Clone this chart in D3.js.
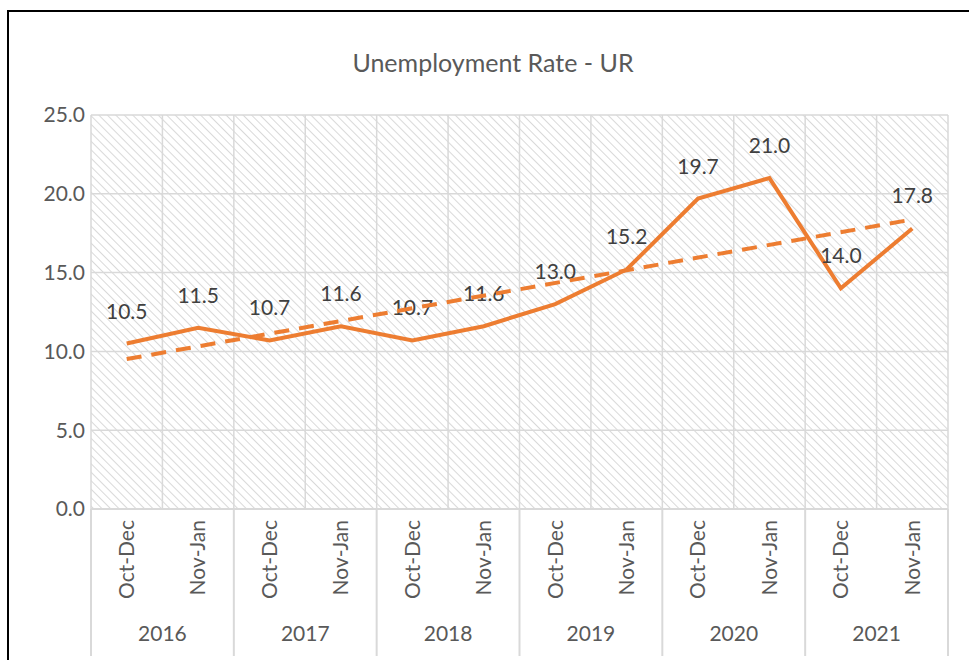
<!DOCTYPE html>
<html><head><meta charset="utf-8">
<script src="https://cdn.jsdelivr.net/npm/d3@7"></script>
<style>body{margin:0;background:#fff;} svg{display:block;}</style>
</head><body>
<svg id="c" width="969" height="660"></svg>
<script>
const years = ["2016","2017","2018","2019","2020","2021"];
const periods = ["Oct-Dec","Nov-Jan"];
const values = [10.5, 11.5, 10.7, 11.6, 10.7, 11.6, 13.0, 15.2, 19.7, 21.0, 14.0, 17.8];
const yTicks = [0, 5, 10, 15, 20, 25];
const title = "Unemployment Rate - UR";

const cats = [];
years.forEach(y => periods.forEach(p => cats.push(y + "|" + p)));

const svg = d3.select("#c");
const font = "Lato, 'Open Sans', sans-serif";
const txt = "#595959";
const orange = "#ED7D31";
const grid = "#d9d9d9";

const m = {l: 91, r: 948, t: 115, b: 509};
const x = d3.scaleBand().domain(cats).range([m.l, m.r]);
const y = d3.scaleLinear().domain([0, 25]).range([m.b, m.t]);

// outer frame
svg.append("path").attr("d", "M8,662 L8,11 L972,11").attr("fill","none").attr("stroke","#000").attr("stroke-width",2);

// hatch pattern
const defs = svg.append("defs");
const pat = defs.append("pattern").attr("id","hatch").attr("patternUnits","userSpaceOnUse")
  .attr("width",6).attr("height",6).attr("patternTransform","rotate(-45)");
pat.append("rect").attr("width",6).attr("height",6).attr("fill","#fff");
pat.append("line").attr("x1",0).attr("y1",0).attr("x2",0).attr("y2",6).attr("stroke","#d0d0d0").attr("stroke-width",1.6);

svg.append("rect").attr("x", m.l).attr("y", m.t).attr("width", m.r - m.l).attr("height", m.b - m.t).attr("fill","url(#hatch)");

// horizontal gridlines
svg.append("g").selectAll("line").data(yTicks).join("line")
  .attr("x1", m.l).attr("x2", m.r).attr("y1", d => y(d)).attr("y2", d => y(d))
  .attr("stroke", grid).attr("stroke-width", 1.5);

// vertical gridlines at category boundaries
const bounds = cats.map(c => x(c)).concat([m.r]);
svg.append("g").selectAll("line").data(bounds).join("line")
  .attr("x1", d => d).attr("x2", d => d).attr("y1", m.t).attr("y2", m.b)
  .attr("stroke", grid).attr("stroke-width", 1.5);

// y axis labels
svg.append("g").selectAll("text").data(yTicks).join("text")
  .attr("x", 85).attr("y", d => y(d)).attr("dy","0.35em").attr("text-anchor","end")
  .attr("font-family", font).attr("font-size", 21).attr("fill", txt)
  .text(d => d.toFixed(1));

// bottom axis
svg.append("line").attr("x1", m.l).attr("x2", m.r).attr("y1", m.b).attr("y2", m.b).attr("stroke", grid).attr("stroke-width", 2);
const yearBounds = years.map(yr => x(yr + "|" + periods[0])).concat([m.r]);
svg.append("g").selectAll("line").data(yearBounds).join("line")
  .attr("x1", d => d).attr("x2", d => d).attr("y1", m.b).attr("y2", 656)
  .attr("stroke", grid).attr("stroke-width", 2);

// category labels
svg.append("g").selectAll("text").data(cats).join("text")
  .attr("transform", d => `translate(${x(d) + x.bandwidth()/2},520) rotate(-90)`)
  .attr("text-anchor","end").attr("dy","0.35em")
  .attr("font-family", font).attr("font-size", 21).attr("fill", txt)
  .text(d => d.split("|")[1]);

// year labels
svg.append("g").selectAll("text").data(years).join("text")
  .attr("x", (d,i) => (yearBounds[i] + yearBounds[i+1]) / 2).attr("y", 634).attr("dy","0.35em")
  .attr("text-anchor","middle").attr("font-family", font).attr("font-size", 21).attr("fill", txt)
  .text(d => d);

// title
svg.append("text").attr("x", 493).attr("y", 63).attr("dy","0.35em").attr("text-anchor","middle")
  .attr("font-family", font).attr("font-size", 25).attr("fill", txt).text(title);

const cx = (d,i) => x(cats[i]) + x.bandwidth()/2;

// series line
svg.append("path").datum(values)
  .attr("d", d3.line().x(cx).y(d => y(d)))
  .attr("fill","none").attr("stroke", orange).attr("stroke-width", 4).attr("stroke-linejoin","miter");

// data labels
svg.append("g").selectAll("text").data(values).join("text")
  .attr("x", cx).attr("y", d => y(d) - 25)
  .attr("text-anchor","middle").attr("font-family", font).attr("font-size", 21).attr("fill", "#404040")
  .text(d => d.toFixed(1));

// linear trendline computed from the values
const n = values.length;
const xs = values.map((_, i) => i + 1);
const mx = d3.mean(xs), my = d3.mean(values);
const slope = d3.sum(xs, (xi, i) => (xi - mx) * (values[i] - my)) / d3.sum(xs, xi => (xi - mx) ** 2);
const icpt = my - slope * mx;
const trend = [0, n - 1].map(i => ({i, v: icpt + slope * (i + 1)}));
svg.append("path").datum(trend)
  .attr("d", d3.line().x(d => x(cats[d.i]) + x.bandwidth()/2).y(d => y(d.v)))
  .attr("fill","none").attr("stroke", orange).attr("stroke-width", 4).attr("stroke-dasharray","15,10");
</script>
</body></html>
